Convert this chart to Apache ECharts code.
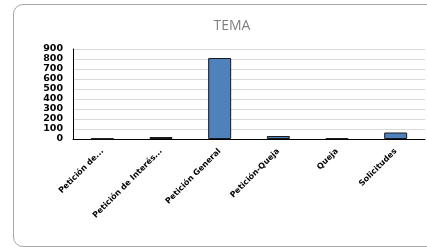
<!DOCTYPE html>
<html><head><meta charset="utf-8">
<script src="https://cdn.jsdelivr.net/npm/echarts@6/dist/echarts.min.js"></script>
<style>
html,body{margin:0;padding:0;background:#fff;overflow:hidden;width:427px;height:247px;}
#frame{position:absolute;left:13px;top:4px;width:440px;height:243px;border:1px solid #a6a6a6;border-radius:10px;box-sizing:border-box;}
#c{position:absolute;left:0;top:0;width:427px;height:247px;}
</style></head>
<body>
<div id="frame"></div>
<div id="c"></div>
<script>
const categories = ["Petición de...", "Petición de Interés...", "Petición General", "Petición-Queja", "Queja", "Solicitudes"];
const values = [5, 20, 810, 30, 7, 65];
const yTicks = [0, 100, 200, 300, 400, 500, 600, 700, 800, 900];

const chart = echarts.init(document.getElementById('c'), null, {renderer:'canvas'});
chart.setOption({
  animation:false,
  backgroundColor:'transparent',
  title:{text:'TEMA', left:227, top:14, textAlign:'center',
    textStyle:{color:'#808080', fontSize:14, fontWeight:'normal', fontFamily:'Open Sans'}},
  grid:{left:73, right:2, top:49, bottom:108, containLabel:false},
  xAxis:{type:'category', data:categories,
    axisLine:{lineStyle:{color:'#000', width:1}},
    axisTick:{show:false},
    axisLabel:{rotate:45, interval:0, fontSize:8, fontWeight:'bold', color:'#000', fontFamily:'DejaVu Sans', margin:11}},
  yAxis:{type:'value', min:yTicks[0], max:yTicks[yTicks.length-1], interval:100,
    axisLine:{show:true, lineStyle:{color:'#000'}},
    axisTick:{show:false},
    splitLine:{lineStyle:{color:'#d9d9d9'}},
    axisLabel:{fontSize:9.5, fontWeight:'bold', color:'#000', fontFamily:'DejaVu Sans', margin:10}},
  series:[{type:'bar', data:values, barWidth:23,
    itemStyle:{color:'#4f81bd', borderColor:'#1a1a1a', borderWidth:1}}]
});
</script>
</body></html>
